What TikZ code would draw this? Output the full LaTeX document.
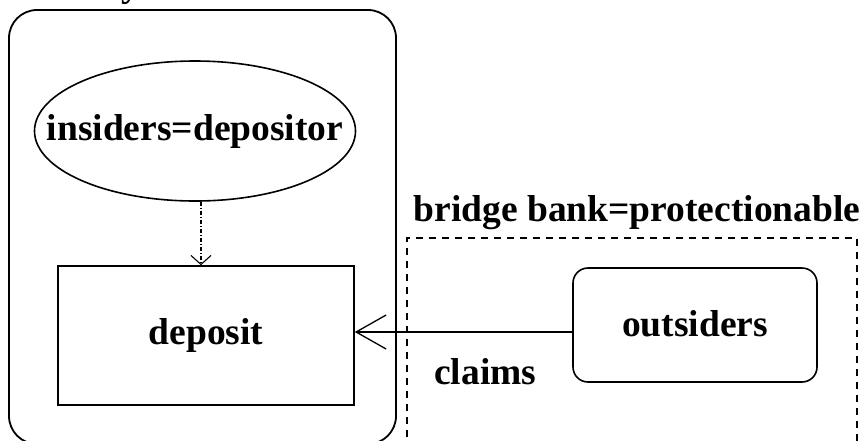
\documentclass[tikz,border=0pt]{standalone}
\usepackage{fontspec}
\setmainfont{Liberation Serif}
\usetikzlibrary{arrows.meta,shapes.geometric}
\begin{document}
\begin{tikzpicture}[x=1pt,y=-1pt,
  lbl/.style={font=\fontsize{37.5}{40}\selectfont\bfseries, inner sep=0pt},
  boxstyle/.style={draw, line width=1.6pt, inner sep=0pt, font=\fontsize{37.5}{40}\selectfont\bfseries},
  bigarrow/.style={line width=1.3pt, -{Straight Barb[length=30pt,width=34pt,line width=1.3pt]}},
  smallarrow/.style={line width=1.1pt, dash pattern=on 4pt off 2pt on 1pt off 2pt, -{Straight Barb[length=9pt,width=20pt,line width=1.1pt]}}]
\useasboundingbox (0,0) rectangle (866,440);
\begin{scope}
\clip (0,0) rectangle (866,440);
\node[lbl, anchor=base west] (frag) at (121,-4) {y};
\draw[line width=1.8pt, rounded corners=28pt] (9,10) rectangle (396,444);
\draw[line width=1.1pt, dash pattern=on 7pt off 6pt] (407,450) -- (407,238) -- (857,238) -- (857,450);
\end{scope}
\node[boxstyle, ellipse, minimum width=321pt, minimum height=140pt] (ell) at (195,131) {\makebox[0pt]{insiders=depositor}};
\node[boxstyle, rectangle, minimum width=296pt, minimum height=139pt] (dep) at (206,335.5) {deposit};
\node[boxstyle, rectangle, rounded corners=15pt, minimum width=244pt, minimum height=114pt] (out) at (695,325) {\raisebox{4pt}{outsiders}};
\node[lbl, anchor=base] (bb) at (637,221) {bridge bank=protectionable};
\node[lbl, anchor=base west] (cl) at (434,384) {claims};
\draw[smallarrow] (ell.south) ++(6,0) coordinate (es) -- (es |- dep.north);
\coordinate (os) at ([yshift=-7pt]out.west);
\draw[bigarrow] (os) -- (os -| dep.east);
\end{tikzpicture}
\end{document}
